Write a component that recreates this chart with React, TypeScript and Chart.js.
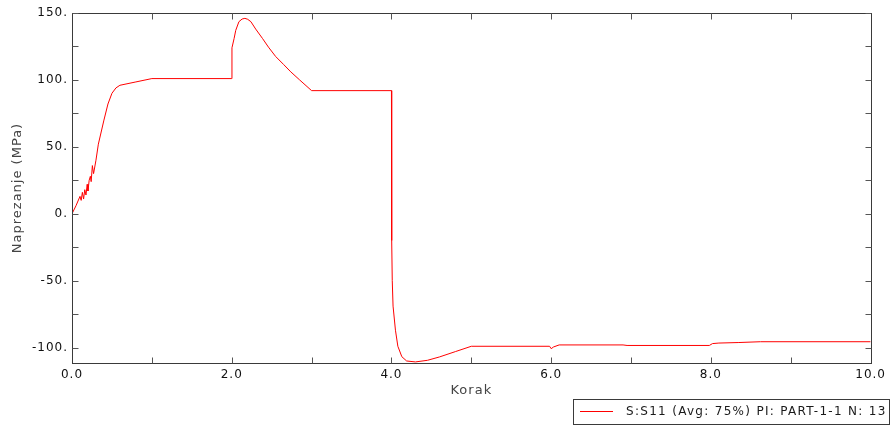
import React, { useEffect, useRef } from "react";
import { Chart, registerables } from "chart.js";

Chart.register(...registerables);

const seriesLabel = "S:S11 (Avg: 75%) PI: PART-1-1 N: 13";
const xTitle = "Korak";
const yTitle = "Naprezanje (MPa)";

const stepX = [
  0, 0.05, 0.1, 0.115, 0.13, 0.145, 0.16, 0.175, 0.19, 0.2, 0.215, 0.23, 0.24, 0.255, 0.27,
  0.3, 0.33, 0.4, 0.45, 0.5, 0.55, 0.6, 0.8, 1.0, 2.0,
  2.003, 2.03, 2.05, 2.09, 2.13, 2.165, 2.2, 2.24, 2.3, 2.385, 2.46, 2.55, 2.65, 2.74, 2.85, 3.0,
  4.0, 4.003, 4.01, 4.02, 4.05, 4.08, 4.13, 4.19, 4.3, 4.45, 4.6, 4.8, 5.0,
  5.98, 6.0, 6.03, 6.1, 6.9, 6.95, 7.98, 8.02, 8.1, 8.35, 8.62, 10.0,
];
const stressY = [
  0, 6, 13, 10, 16, 11, 18, 14, 22, 17, 25, 28, 24, 36, 30,
  40, 52, 70, 82, 90, 94, 96, 98.5, 101, 101,
  124, 131, 137, 143.5, 145.5, 146, 145.3, 143.5, 138, 131, 124.5, 117.5, 111.5, 106, 100, 92,
  92, -20, -50, -69, -87, -99, -106.8, -110, -110.7, -109.5, -107, -103, -99,
  -99, -100.8, -99.5, -98, -98, -98.4, -98.4, -97, -96.6, -96.2, -95.6, -95.6,
];

const xTicks = [0, 1, 2, 3, 4, 5, 6, 7, 8, 9, 10];
const yTicks = [-100, -75, -50, -25, 0, 25, 50, 75, 100, 125, 150];

const FONT = "'DejaVu Sans', Verdana, sans-serif";

const framePlugin = {
  id: "frameAndTicks",
  beforeUpdate(chart: any) {
    chart.ctx.letterSpacing = "1px";
  },
  beforeDraw(chart: any) {
    chart.ctx.letterSpacing = "1px";
  },
  afterDatasetsDraw(chart: any) {
    const { ctx, chartArea, scales } = chart;
    const { left, right, top, bottom } = chartArea;
    const L = Math.round(left) + 0.5;
    const R = Math.round(right) + 0.5;
    const T = Math.round(top) + 0.5;
    const B = Math.round(bottom) + 0.5;
    ctx.save();
    ctx.strokeStyle = "#3a3a3a";
    ctx.lineWidth = 1;
    ctx.strokeRect(L, T, R - L, B - T);
    ctx.strokeStyle = "#555";
    const len = 6;
    ctx.beginPath();
    for (const v of xTicks) {
      const px = Math.round(scales.x.getPixelForValue(v)) + 0.5;
      if (v === 0 || v === 10) continue;
      ctx.moveTo(px, B);
      ctx.lineTo(px, B - len);
      ctx.moveTo(px, T);
      ctx.lineTo(px, T + len);
    }
    for (const v of yTicks) {
      const py = Math.round(scales.y.getPixelForValue(v)) + 0.5;
      ctx.moveTo(L, py);
      ctx.lineTo(L + len, py);
      ctx.moveTo(R, py);
      ctx.lineTo(R - len, py);
    }
    ctx.stroke();
    ctx.restore();
  },
  afterDraw(chart: any) {
    const { ctx } = chart;
    const ds = chart.data.datasets[0];
    ctx.save();
    ctx.strokeStyle = "#3a3a3a";
    ctx.lineWidth = 1;
    ctx.strokeRect(573.5, 399.5, 316, 25);
    ctx.strokeStyle = ds.borderColor;
    ctx.beginPath();
    ctx.moveTo(580, 411.5);
    ctx.lineTo(613, 411.5);
    ctx.stroke();
    ctx.fillStyle = "#1a1a1a";
    ctx.font = `12px ${FONT}`;
    ctx.letterSpacing = "1.3px";
    ctx.textBaseline = "middle";
    ctx.textAlign = "left";
    ctx.fillText(ds.label, 626, 412);
    ctx.restore();
  },
};

export default function App() {
  const canvasRef = useRef<HTMLCanvasElement | null>(null);

  useEffect(() => {
    const canvas = canvasRef.current;
    if (!canvas) return;
    const data = stepX.map((x, i) => ({ x, y: stressY[i] }));
    const chart = new Chart(canvas, {
      type: "line",
      data: {
        datasets: [
          {
            label: seriesLabel,
            data,
            borderColor: "rgb(255,0,0)",
            borderWidth: 1,
            pointRadius: 0,
            tension: 0,
            fill: false,
          },
        ],
      },
      options: {
        responsive: false,
        animation: false,
        events: [],
        layout: { padding: { left: 0, top: 13, right: 17, bottom: 0 } },
        plugins: { legend: { display: false }, tooltip: { enabled: false } },
        scales: {
          x: {
            type: "linear",
            min: 0,
            max: 10,
            afterBuildTicks: (s: any) => {
              s.ticks = xTicks.map((v) => ({ value: v }));
            },
            afterFit: (s: any) => {
              s.height = 64;
            },
            grid: { display: false, drawTicks: false },
            border: { display: false },
            ticks: {
              padding: 5,
              maxRotation: 0,
              autoSkip: false,
              color: "#111",
              font: { family: FONT, size: 12 },
              callback: (v: any) => (Number(v) % 2 === 0 ? Number(v).toFixed(1) : ""),
            },
            title: {
              display: true,
              text: xTitle,
              color: "#444",
              font: { family: FONT, size: 13 },
              padding: { top: 0, bottom: 29 },
            },
          },
          y: {
            type: "linear",
            min: -111.5,
            max: 150,
            afterBuildTicks: (s: any) => {
              s.ticks = yTicks.map((v) => ({ value: v }));
            },
            afterFit: (s: any) => {
              s.width = 72;
            },
            grid: { display: false, drawTicks: false },
            border: { display: false },
            ticks: {
              padding: 4,
              autoSkip: false,
              color: "#111",
              font: { family: FONT, size: 12 },
              callback: (v: any) => (Number(v) % 50 === 0 ? `${Number(v)}.` : ""),
            },
            title: {
              display: true,
              text: yTitle,
              color: "#444",
              font: { family: FONT, size: 13 },
              padding: { top: 10, bottom: 0 },
            },
          },
        },
      },
      plugins: [framePlugin],
    });
    return () => chart.destroy();
  }, []);

  return (
    <div style={{ position: "absolute", left: 0, top: 0, width: 891, height: 427, background: "#fff" }}>
      <canvas ref={canvasRef} width={891} height={427} style={{ display: "block" }} />
    </div>
  );
}
